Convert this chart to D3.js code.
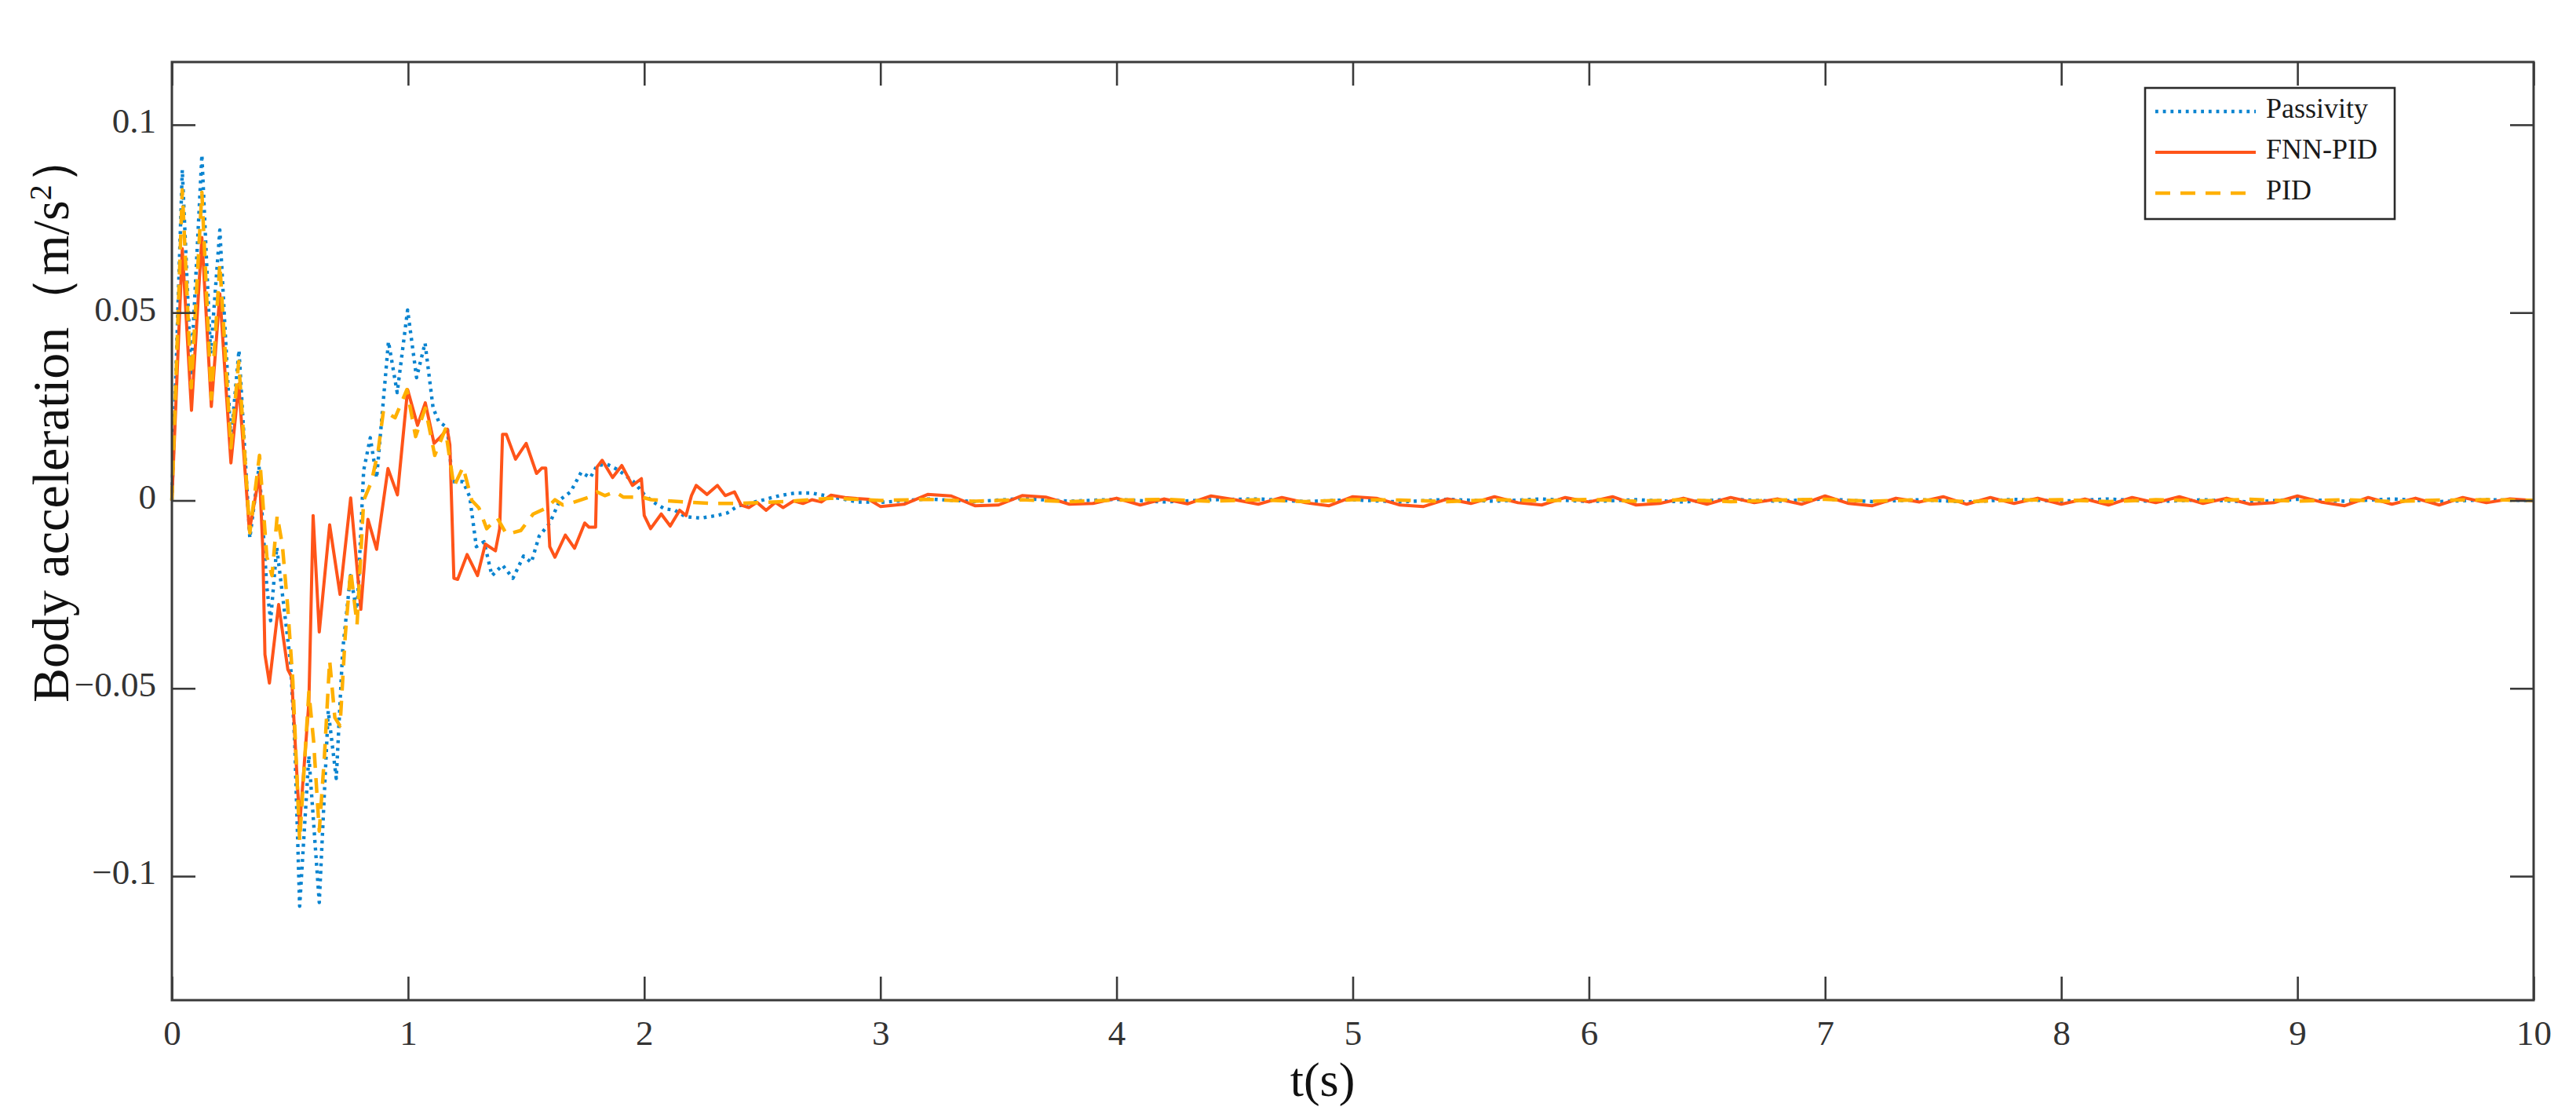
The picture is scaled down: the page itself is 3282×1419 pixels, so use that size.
<!DOCTYPE html>
<meta charset="utf-8">
<head>
  <title>Body acceleration</title>
</head>

<style>
body {
  margin: 0;
  background: #fff;
}
svg {
  display: block;
  font-family: "Liberation Serif", "DejaVu Serif", serif;
}
</style>

<body>
<script src="https://d3js.org/d3.v7.min.js"></script>

<script>

// ---- data (t in s, acceleration in m/s^2) ----

var seriesNames = ["Passivity", "FNN-PID", "PID"];

var passivity = [[0,0],[0.044,0.088],[0.081,0.034],[0.127,0.092],[0.164,0.039],[0.203,0.072],
  [0.25,0.016],[0.284,0.040],[0.33,-0.010],[0.369,0.009],[0.402,-0.023],[0.418,-0.032],
  [0.444,-0.0125],[0.47,-0.026],[0.502,-0.043],[0.52,-0.064],[0.541,-0.108],[0.58,-0.068],
  [0.624,-0.107],[0.662,-0.056],[0.696,-0.074],[0.723,-0.040],[0.756,-0.020],[0.784,-0.030],
  [0.812,0.008],[0.84,0.0167],[0.867,0.006],[0.917,0.0423],[0.954,0.0287],[0.998,0.0507],
  [1.036,0.0327],[1.072,0.0419],[1.106,0.0246],[1.13,0.021],[1.166,0.0194],[1.188,0.005],
  [1.233,0.005],[1.261,0.001],[1.289,-0.0123],[1.322,-0.011],[1.355,-0.020],[1.40,-0.0172],
  [1.444,-0.0207],[1.489,-0.0148],[1.522,-0.0165],[1.555,-0.0095],[1.60,-0.006],[1.644,0.0002],
  [1.688,0.0023],[1.733,0.0075],[1.772,0.0061],[1.80,0.0093],[1.844,0.0096],[1.888,0.0082],
  [1.955,0.005],[2.0,0.0016],[2.04,-0.0005],[2.085,-0.0022],[2.13,-0.0026],[2.174,-0.0043],
  [2.24,-0.0047],[2.307,-0.004],[2.352,-0.0033],[2.396,-0.0015],[2.44,-0.0008],[2.507,0.0002],
  [2.574,0.0013],[2.64,0.002],[2.707,0.002],[2.767,0.0013],[2.856,0.0002],[2.9,-0.0004]];

var fnnPid = [[0,0],[0.044,0.067],[0.083,0.024],[0.127,0.070],[0.167,0.025],[0.203,0.055],
  [0.25,0.010],[0.283,0.031],[0.328,-0.008],[0.371,0.007],[0.385,-0.013],[0.394,-0.041],
  [0.413,-0.0486],[0.452,-0.0277],[0.491,-0.045],[0.507,-0.047],[0.541,-0.0866],[0.58,-0.0538],
  [0.598,-0.004],[0.624,-0.035],[0.668,-0.0065],[0.712,-0.025],[0.757,0.0007],[0.80,-0.029],
  [0.83,-0.005],[0.867,-0.013],[0.915,0.0085],[0.955,0.0015],[0.998,0.0295],[1.04,0.020],
  [1.073,0.026],[1.11,0.0152],[1.133,0.0166],[1.166,0.019],[1.177,0.0148],[1.194,-0.0207],
  [1.21,-0.021],[1.25,-0.0144],[1.294,-0.020],[1.327,-0.0116],[1.37,-0.0134],[1.388,-0.0075],
  [1.40,0.0176],[1.416,0.0176],[1.455,0.011],[1.50,0.0152],[1.544,0.0072],[1.566,0.0086],
  [1.583,0.0086],[1.60,-0.0123],[1.622,-0.0151],[1.666,-0.0092],[1.705,-0.0127],[1.748,-0.006],
  [1.766,-0.0071],[1.794,-0.0071],[1.80,0.0089],[1.822,0.0107],[1.866,0.0061],[1.905,0.0093],
  [1.95,0.004],[1.988,0.0058],[2.0,-0.004],[2.027,-0.0075],[2.072,-0.0036],[2.11,-0.0068],
  [2.15,-0.0026],[2.177,-0.004],[2.2,0.0013],[2.22,0.004],[2.266,0.0016],[2.31,0.004],
  [2.343,0.0013],[2.382,0.0023],[2.41,-0.0012],[2.443,-0.0019],[2.477,-0.0005],[2.516,-0.0026],
  [2.555,-0.0005],[2.588,-0.0019],[2.633,-0.0001],[2.672,-0.0008],[2.71,0.0002],[2.75,-0.0004],
  [2.79,0.0014],[2.85,0.0008],[2.9,0.0005],[2.95,0.0003]];

var pid = [[0,0],[0.044,0.0827],[0.082,0.030],[0.127,0.082],[0.167,0.027],[0.203,0.063],
  [0.25,0.014],[0.283,0.037],[0.33,-0.0086],[0.371,0.012],[0.402,-0.015],[0.424,-0.020],
  [0.446,-0.004],[0.468,-0.012],[0.49,-0.028],[0.512,-0.048],[0.541,-0.0906],[0.58,-0.051],
  [0.60,-0.064],[0.624,-0.088],[0.646,-0.068],[0.668,-0.0426],[0.69,-0.0578],[0.712,-0.060],
  [0.734,-0.036],[0.757,-0.0185],[0.784,-0.033],[0.812,0.0],[0.845,0.005],[0.873,0.013],
  [0.896,0.024],[0.945,0.022],[0.995,0.0295],[1.032,0.017],[1.073,0.0246],[1.113,0.012],
  [1.158,0.019],[1.194,0.0037],[1.233,0.0089],[1.27,0.0],[1.30,-0.002],[1.333,-0.0075],
  [1.378,-0.0047],[1.417,-0.009],[1.477,-0.008],[1.53,-0.0036],[1.589,-0.0019],[1.622,0.0002],
  [1.655,-0.0012],[1.70,-0.0005],[1.766,0.0009],[1.80,0.0023],[1.833,0.0013],[1.877,0.0023],
  [1.911,0.0009],[1.989,0.0009],[2.03,0.0002],[2.1,-0.0001],[2.2,-0.0005],[2.3,-0.0008],
  [2.4,-0.0008],[2.5,-0.0005],[2.6,-0.0003],[2.7,0.0002],[2.8,0.0006],[2.9,0.0003]];

// steady part after 3 s, sampled every tailStep seconds
var tailStart = 3;
var fnnTailStep = 0.1;
var fnnTail = [-0.0016,-0.0010,0.0016,0.0012,-0.0014,-0.0012,0.0013,0.0009,-0.0010,-0.0008,
  0.0006,-0.0012,0.0004,-0.0009,0.0012,0.0002,-0.0010,0.0008,-0.0006,-0.0014,
  0.0010,0.0006,-0.0012,-0.0016,0.0004,-0.0008,0.0010,-0.0006,-0.0012,0.0008,
  -0.0004,0.0010,-0.0012,-0.0008,0.0006,-0.0010,0.0008,-0.0006,0.0004,-0.0010,
  0.0012,-0.0008,-0.0014,0.0006,-0.0004,0.0010,-0.0010,0.0008,-0.0008,0.0006,
  -0.0010,0.0004,-0.0012,0.0008,-0.0006,0.0010,-0.0008,0.0006,-0.0010,-0.0006,
  0.0012,-0.0004,-0.0014,0.0008,-0.0010,0.0006,-0.0012,0.0008,-0.0006,0.0004,0.0];
var slowTailStep = 0.2;
var passTail = [-0.0005,0.0004,-0.0003,0.0005,-0.0002,0.0003,-0.0004,0.0002,0.0004,-0.0003,
  0.0002,-0.0004,0.0003,-0.0002,0.0004,-0.0003,0.0002,-0.0004,0.0003,-0.0002,
  0.0004,-0.0003,0.0002,-0.0004,0.0003,-0.0002,0.0004,-0.0003,0.0002,-0.0004,
  0.0003,-0.0002,0.0004,-0.0003,0.0002,0.0];
var pidTail = [0.0,0.0003,-0.0002,0.0002,-0.0003,0.0001,0.0003,-0.0002,0.0002,-0.0003,
  0.0002,0.0001,-0.0003,0.0002,-0.0001,0.0003,-0.0002,0.0002,-0.0003,0.0001,
  0.0003,-0.0002,0.0002,-0.0003,0.0001,0.0002,-0.0003,0.0002,-0.0001,0.0003,
  -0.0002,0.0002,-0.0003,0.0001,0.0002,0.0];

var xTicks = [0,1,2,3,4,5,6,7,8,9,10];
var yTicks = [-0.1,-0.05,0,0.05,0.1];
var yTickLabels = ["\u22120.1","\u22120.05","0","0.05","0.1"];
var xDomain = [0, 10];
var yDomain = [-0.1330, 0.1167];

// ---- layout ----
var w = 3282, h = 1419;
var margin = {top: 79, right: 54, bottom: 145, left: 219};
var iw = w - margin.left - margin.right,
    ih = h - margin.top - margin.bottom;

var colors = {"Passivity": "#0a84d0", "FNN-PID": "#ff5419", "PID": "#ffb000"};
var dashes = {"Passivity": "3.8,5.9", "FNN-PID": null, "PID": "19,13"};
var widths = {"Passivity": 4.4, "FNN-PID": 4, "PID": 4.5};

function withTail(head, tail, step) {
  return head.concat(tail.map(function(v, i) { return [tailStart + i * step, v]; }));
}

var series = [
  {name: "Passivity", values: withTail(passivity, passTail, slowTailStep)},
  {name: "FNN-PID", values: withTail(fnnPid, fnnTail, fnnTailStep)},
  {name: "PID", values: withTail(pid, pidTail, slowTailStep)}
];

var svg = d3.select("body")
  .append("svg")
  .attr("width", w)
  .attr("height", h);

svg.append("rect").attr("width", w).attr("height", h).attr("fill", "#fff");

var g = svg.append("g")
  .attr("transform", "translate(" + margin.left + "," + margin.top + ")");

var x = d3.scaleLinear().domain(xDomain).range([0, iw]);
var y = d3.scaleLinear().domain(yDomain).range([ih, 0]);

// lines
var line = d3.line()
  .x(function(d) { return x(d[0]); })
  .y(function(d) { return y(d[1]); });

g.selectAll(".series")
  .data(series)
  .enter()
  .append("path")
  .attr("class", "series")
  .attr("d", function(d) { return line(d.values); })
  .attr("fill", "none")
  .attr("stroke", function(d) { return colors[d.name]; })
  .attr("stroke-width", function(d) { return widths[d.name]; })
  .attr("stroke-dasharray", function(d) { return dashes[d.name]; })
  .attr("stroke-linejoin", "round");

// axes, ticks pointing inward on all four sides
var axisColor = "#3a3a3a";

var xAxis = g.append("g")
  .attr("transform", "translate(0," + ih + ")")
  .call(d3.axisBottom(x).tickValues(xTicks).tickSize(-30).tickPadding(25)
    .tickFormat(d3.format("d")));

var xAxisTop = g.append("g")
  .call(d3.axisTop(x).tickValues(xTicks).tickSize(-30).tickFormat(""));

var yAxis = g.append("g")
  .call(d3.axisLeft(y).tickValues(yTicks).tickSize(-30).tickPadding(20)
    .tickFormat(function(d, i) { return yTickLabels[i]; }));

var yAxisRight = g.append("g")
  .attr("transform", "translate(" + iw + ",0)")
  .call(d3.axisRight(y).tickValues(yTicks).tickSize(-30).tickFormat(""));

[xAxis, xAxisTop, yAxis, yAxisRight].forEach(function(a) {
  a.select(".domain").remove();
  a.selectAll(".tick line").attr("stroke", axisColor).attr("stroke-width", 2.6);
  a.selectAll(".tick text")
    .attr("fill", "#333")
    .attr("font-size", 45)
    .attr("font-family", "Liberation Serif, DejaVu Serif, serif");
});
yAxis.selectAll(".tick text").attr("dy", "0.22em");

g.append("rect")
  .attr("width", iw)
  .attr("height", ih)
  .attr("fill", "none")
  .attr("stroke", axisColor)
  .attr("stroke-width", 3);

// axis titles
svg.append("text")
  .attr("x", 1685)
  .attr("y", 1396)
  .attr("text-anchor", "middle")
  .attr("font-size", 62)
  .attr("fill", "#111")
  .text("t(s)");

var yTitle = svg.append("text")
  .attr("transform", "translate(87,895) rotate(-90)")
  .attr("font-size", 66)
  .attr("fill", "#111");
yTitle.append("tspan").text("Body acceleration\uff08m/s");
yTitle.append("tspan").attr("baseline-shift", "super").attr("font-size", 40).text("2");
yTitle.append("tspan").text("\uff09");

// legend
var lg = g.append("g")
  .attr("transform", "translate(" + (iw - 495) + ",33)");

lg.append("rect")
  .attr("width", 318)
  .attr("height", 167)
  .attr("fill", "#fff")
  .attr("stroke", "#2a2a2a")
  .attr("stroke-width", 2.6);

var items = lg.selectAll(".item")
  .data(seriesNames)
  .enter()
  .append("g")
  .attr("class", "item")
  .attr("transform", function(d, i) { return "translate(0," + (30 + i * 52) + ")"; });

items.append("line")
  .attr("x1", 13)
  .attr("x2", 141)
  .attr("stroke", function(d) { return colors[d]; })
  .attr("stroke-width", function(d) { return widths[d]; })
  .attr("stroke-dasharray", function(d) { return dashes[d]; });

items.append("text")
  .attr("x", 154)
  .attr("y", 8)
  .attr("font-size", 36)
  .attr("fill", "#1a1a1a")
  .text(function(d) { return d; });

</script>
</body>
</html>
